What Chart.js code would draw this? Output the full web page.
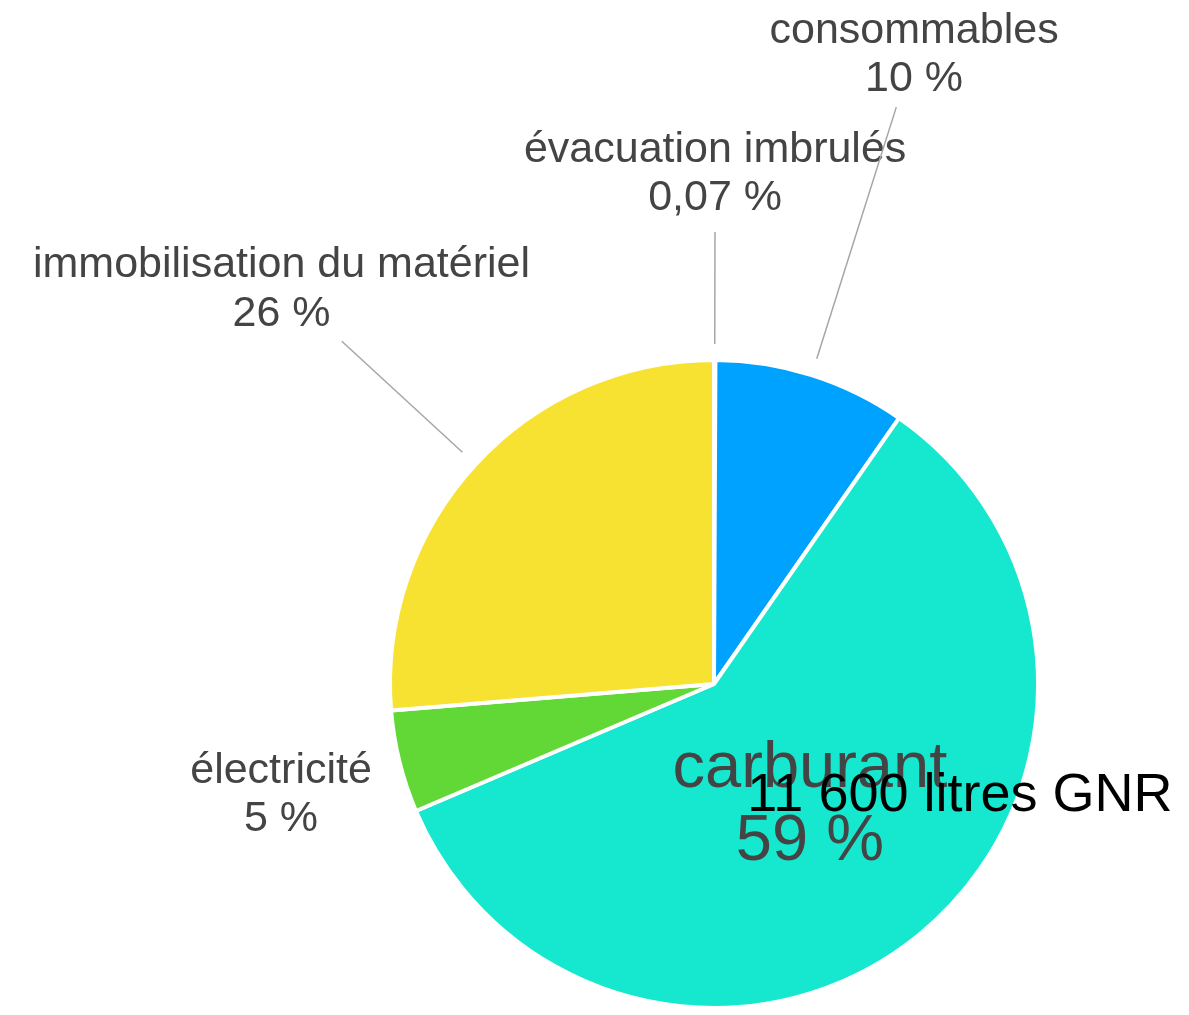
<!DOCTYPE html>
<html>
<head>
<meta charset="utf-8">
<script src="https://cdn.jsdelivr.net/npm/chart.js@4"></script>
<style>
  body { margin: 0; background: #fff; }
  #wrap { width: 1189px; height: 1015px; position: relative; }
</style>
</head>
<body>
<div id="wrap"><canvas id="pie"></canvas></div>
<script>
// slice data, clockwise from the top
const labels = ['évacuation imbrulés', 'consommables', 'carburant', 'électricité', 'immobilisation du matériel'];
const values = [0.07, 9.6, 58.9, 5.1, 26.3];
const colors = ['#EE220C', '#00A2FF', '#16E7CF', '#61D836', '#F8E231'];
const carburantNote = '11 600 litres GNR';

// where each label goes, measured from the pie centre along the slice's middle
const labelPlace = [
    { r: 514, line: [340, 452], size: 43 },
    { r: 664, line: [341, 605], size: 43 },
    { r: 152, line: null, size: 65, inside: true },
    { r: 446, line: null, size: 43 },
    { r: 588, line: [342, 506], size: 43 }
];

// shown as rounded percent, tiny ones keep their decimals
function pct(v) {
    const shown = v < 1 ? v : Math.round(v);
    return shown.toLocaleString('fr-FR') + ' %';
}

const sliceLabels = {
    id: 'sliceLabels',
    afterDatasetsDraw(chart) {
        const ctx = chart.ctx;
        const arcs = chart.getDatasetMeta(0).data;
        ctx.save();
        arcs.forEach((arc, i) => {
            const p = labelPlace[i];
            const mid = (arc.startAngle + arc.endAngle) / 2;
            const cx = arc.x, cy = arc.y;
            const cos = Math.cos(mid), sin = Math.sin(mid);

            // leader line
            if (p.line) {
                ctx.strokeStyle = '#a6a6a6';
                ctx.lineWidth = 1.5;
                ctx.beginPath();
                ctx.moveTo(cx + p.line[0] * cos, cy + p.line[0] * sin);
                ctx.lineTo(cx + p.line[1] * cos, cy + p.line[1] * sin);
                ctx.stroke();
            }

            // two-line label: name then percentage
            const lx = cx + p.r * cos;
            const ly = cy + p.r * sin + 4;
            const lh = p.size * 1.12;
            ctx.fillStyle = '#444444';
            ctx.font = p.size + 'px "Liberation Sans", Arial, sans-serif';
            ctx.textAlign = 'center';
            ctx.textBaseline = 'middle';
            ctx.fillText(labels[i], lx, ly - lh / 2);
            ctx.fillText(pct(values[i]), lx, ly + lh / 2);

            // extra note over the carburant slice
            if (p.inside) {
                ctx.fillStyle = '#000';
                ctx.font = '54px "Liberation Sans", Arial, sans-serif';
                ctx.fillText(carburantNote, lx + 150, ly - 10);
            }
        });
        ctx.restore();
    }
};

new Chart(document.getElementById('pie'), {
    type: 'pie',
    data: {
        labels: labels,
        datasets: [{
            data: values,
            backgroundColor: colors,
            borderColor: '#ffffff',
            borderWidth: 4
        }]
    },
    options: {
        responsive: true,
        maintainAspectRatio: false,
        animation: false,
        layout: { padding: { left: 388, right: 149, top: 358, bottom: 5 } },
        plugins: {
            legend: { display: false },
            tooltip: { enabled: false }
        }
    },
    plugins: [sliceLabels]
});
</script>
</body>
</html>
